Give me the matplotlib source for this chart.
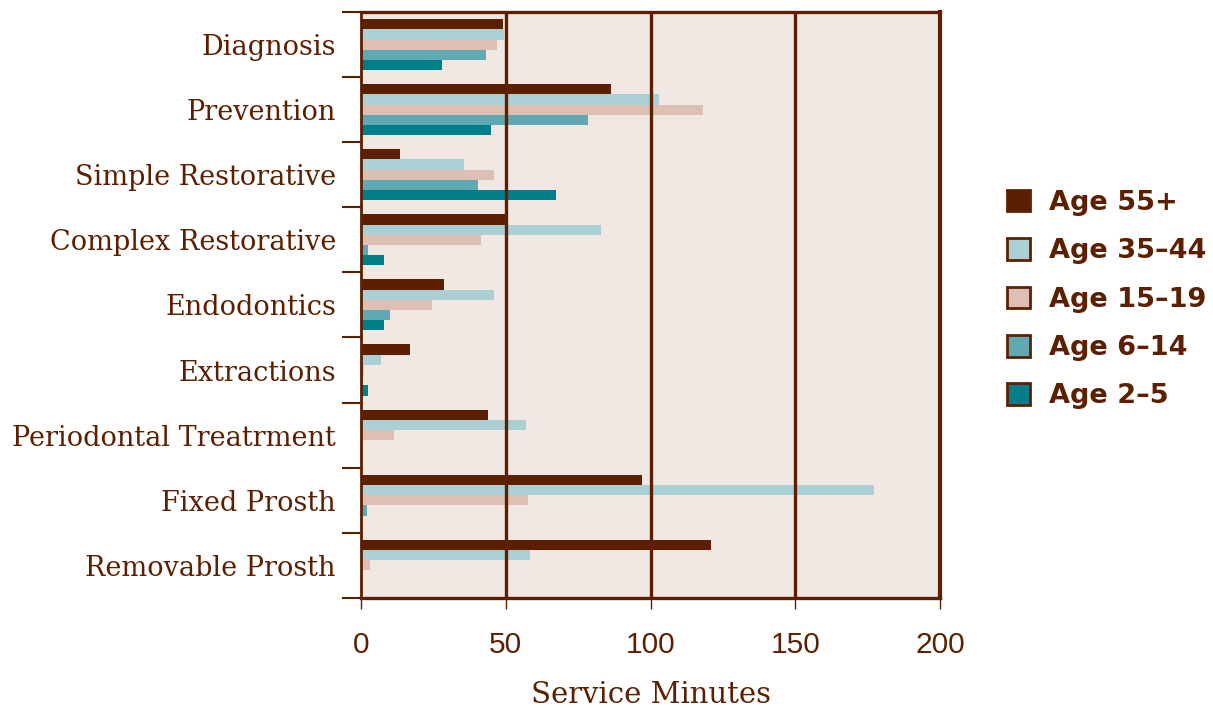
import numpy as np
import matplotlib
matplotlib.use("Agg")
import matplotlib.pyplot as plt
from matplotlib.patches import Patch

# ========== DATA ========== #

categories = ["Diagnosis", "Prevention", "Simple Restorative", "Complex Restorative",
              "Endodontics", "Extractions", "Periodontal Treatrment", "Fixed Prosth",
              "Removable Prosth"]

age_55 = [49, 86.5, 13.5, 50.5, 28.5, 17, 44, 97, 121]
age_35_44 = [49.5, 103, 35.5, 83, 46, 7, 57, 177, 58.5]
age_15_19 = [47, 118, 46, 41.5, 24.5, 1, 11.5, 57.5, 3]
age_6_14 = [43, 78.5, 40.5, 2.5, 10, 0.7, 0, 2, 0]
age_2_5 = [28, 45, 67.5, 8, 8, 2.5, 0, 0, 0]

series_names = ["Age 55+", "Age 35\u201344", "Age 15\u201319", "Age 6\u201314", "Age 2\u20135"]
series_values = [age_55, age_35_44, age_15_19, age_6_14, age_2_5]

# ========== STYLE ========== #

brown = "#5C1F00"
colors = ["#5C1F00", "#AACFD5", "#DDBFB3", "#60A9B3", "#007F8B"]
bg = "#F2E8E3"

fig = plt.figure(figsize=(12.13, 7.10), dpi=100)
ax = fig.add_axes([0.2976, 0.158, 0.4775, 0.825])
ax.set_facecolor(bg)

n = len(categories)
h = 0.157
y = np.arange(n)
for i, (name, vals) in enumerate(zip(series_names, series_values)):
    offs = (i - 2) * h
    ax.barh(y + offs, vals, height=h, color=colors[i], zorder=2, linewidth=0)

ax.set_ylim(n - 0.5, -0.5)
ax.set_xlim(0, 200)

# vertical grid lines drawn on top of the bars
for xv in [50, 100, 150]:
    ax.axvline(xv, color=brown, lw=2.4, zorder=3)

for side in ["left", "right", "top", "bottom"]:
    ax.spines[side].set_color(brown)
ax.spines["left"].set_linewidth(2.0)
ax.spines["bottom"].set_linewidth(2.4)
ax.spines["top"].set_linewidth(2.4)
ax.spines["right"].set_linewidth(3.0)

# y labels at group centres, ticks at group boundaries
ax.set_yticks(y)
ax.set_yticklabels(categories, family="DejaVu Serif", fontsize=19.5, color=brown)
ax.tick_params(axis="y", which="major", length=0, pad=18)
ax.set_yticks(np.arange(n + 1) - 0.5, minor=True)
ax.tick_params(axis="y", which="minor", length=14, width=1.5, color=brown)

ax.set_xticks([0, 50, 100, 150, 200])
ax.tick_params(axis="x", length=8, width=1.0, color=brown, labelcolor=brown,
               labelsize=21.5, pad=16)
for lab in ax.get_xticklabels():
    lab.set_family("Liberation Sans")

ax.set_xlabel("Service Minutes", family="DejaVu Serif", fontsize=21, color=brown,
              labelpad=16)

handles = [Patch(facecolor=c, edgecolor=brown, linewidth=2) for c in colors]
leg = fig.legend(handles, series_names, loc="center left", bbox_to_anchor=(0.81, 0.578),
                 frameon=False, handlelength=0.85, handleheight=0.85, handletextpad=0.7,
                 labelspacing=0.82, prop={"family": "DejaVu Sans", "weight": "bold", "size": 19.5})
for t in leg.get_texts():
    t.set_color(brown)

fig.savefig("out.png", dpi=100, facecolor="white")
